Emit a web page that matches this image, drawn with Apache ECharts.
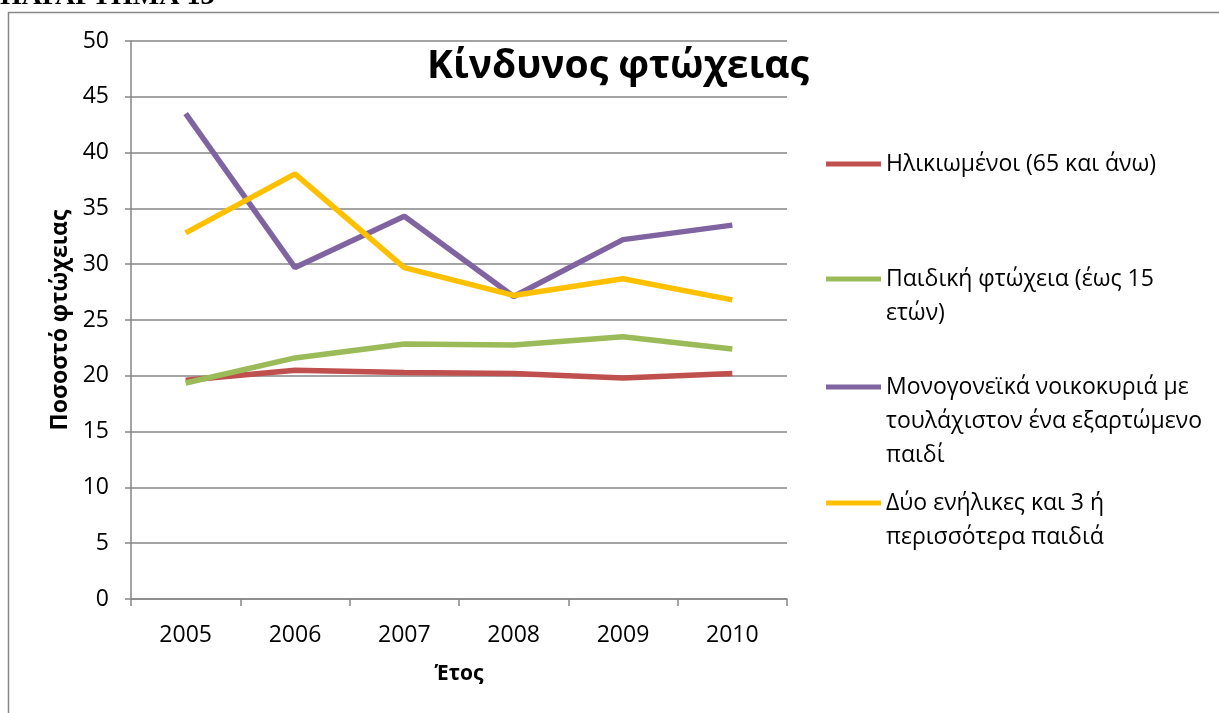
<!DOCTYPE html>
<html>
<head>
<meta charset="utf-8">
<script src="https://cdn.jsdelivr.net/npm/echarts@6/dist/echarts.min.js"></script>
<style>
  html, body { margin: 0; padding: 0; background: #fff; }
  #container { width: 1219px; height: 713px; }
</style>
</head>
<body>
<div id="container"></div>
<script>
var years = ['2005', '2006', '2007', '2008', '2009', '2010'];

var elderly = [19.6, 20.5, 20.3, 20.2, 19.8, 20.2];
var childPoverty = [19.35, 21.6, 22.85, 22.75, 23.5, 22.4];
var singleParent = [43.5, 29.7, 34.3, 27.1, 32.2, 33.5];
var twoAdults3Kids = [32.8, 38.1, 29.7, 27.2, 28.7, 26.8];

var seriesNames = [
    'Ηλικιωμένοι (65 και άνω)',
    'Παιδική φτώχεια (έως 15 ετών)',
    'Μονογονεϊκά νοικοκυριά με τουλάχιστον ένα εξαρτώμενο παιδί',
    'Δύο ενήλικες και 3 ή περισσότερα παιδιά'
];
// legend text split into lines as in the picture
var legendLines = [
    ['Ηλικιωμένοι (65 και άνω)'],
    ['Παιδική φτώχεια (έως 15', 'ετών)'],
    ['Μονογονεϊκά νοικοκυριά με', 'τουλάχιστον ένα εξαρτώμενο', 'παιδί'],
    ['Δύο ενήλικες και 3 ή', 'περισσότερα παιδιά']
];
var colors = ['#C0504D', '#9BBB59', '#8064A2', '#FFC000'];

var font = '"Open Sans", "Noto Sans", sans-serif';
var dom = document.getElementById('container');
var myChart = echarts.init(dom);

// icon sits on the first line: pad the text block with blank lines above
var legendTops = [142, 223, 297, 447];
var legends = [];
for (var i = 0; i < seriesNames.length; i++) {
    legends.push({
        orient: 'vertical',
        left: 821,
        top: legendTops[i],
        data: [seriesNames[i]],
        icon: 'rect',
        itemWidth: 55,
        itemHeight: 5,
        selectedMode: false,
        formatter: (function (lines) {
            return function () {
                var pad = [];
                for (var k = 1; k < lines.length; k++) pad.push('');
                return pad.concat(lines).join('\n');
            };
        })(legendLines[i]),
        textStyle: { fontFamily: font, fontSize: 23, color: '#000', lineHeight: 34 }
    });
}

var data = [elderly, childPoverty, singleParent, twoAdults3Kids];
var series = [];
for (var j = 0; j < data.length; j++) {
    series.push({
        name: seriesNames[j],
        type: 'line',
        data: data[j],
        symbol: 'none',
        lineStyle: { width: 5.5, color: colors[j] },
        itemStyle: { color: colors[j] }
    });
}

var option = {
    animation: false,
    backgroundColor: '#fff',
    title: {
        text: 'Κίνδυνος φτώχειας',
        left: 613,
        textAlign: 'center',
        top: 42,
        textStyle: { fontFamily: font, fontSize: 39, fontWeight: 'bold', color: '#000' }
    },
    graphic: [
        {
            type: 'rect',
            shape: { x: 8.5, y: 12.5, width: 1230, height: 730 },
            style: { fill: 'none', stroke: '#888', lineWidth: 1.5 }
        },
        {
            type: 'text',
            left: 0,
            top: -17,
            style: { text: 'ΠΑΡΑΡΤΗΜΑ 13', fontFamily: '"Liberation Serif", serif', fontSize: 28, fontWeight: 'bold', fill: '#000' }
        }
    ],
    legend: legends,
    grid: { left: 131, right: 432, top: 41, bottom: 114 },
    xAxis: {
        type: 'category',
        data: years,
        boundaryGap: true,
        name: 'Έτος',
        nameLocation: 'middle',
        nameGap: 65,
        nameTextStyle: { fontFamily: font, fontSize: 21, fontWeight: 'bold', color: '#000' },
        axisLine: { lineStyle: { color: '#868686', width: 1.5 } },
        axisTick: { show: true, length: 7, lineStyle: { color: '#868686', width: 1.5 } },
        axisLabel: { fontFamily: font, fontSize: 23, color: '#000', margin: 25 }
    },
    yAxis: {
        type: 'value',
        min: 0,
        max: 50,
        interval: 5,
        name: 'Ποσοστό φτώχειας',
        nameLocation: 'middle',
        nameGap: 58,
        nameTextStyle: { fontFamily: font, fontSize: 23, fontWeight: 'bold', color: '#000' },
        axisLine: { show: true, lineStyle: { color: '#868686', width: 1.5 } },
        axisTick: { show: true, length: 6, lineStyle: { color: '#868686', width: 1.5 } },
        axisLabel: { fontFamily: font, fontSize: 23, color: '#000', margin: 22 },
        splitLine: { lineStyle: { color: '#868686', width: 1.5 } }
    },
    series: series
};

myChart.setOption(option);
</script>
</body>
</html>
